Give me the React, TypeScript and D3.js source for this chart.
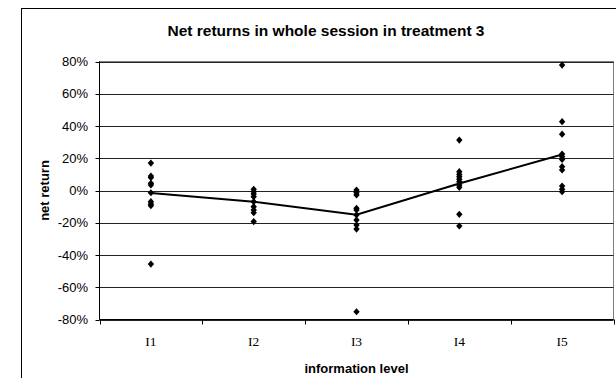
import React from "react";
import * as d3 from "d3";

const categories = ["I1", "I2", "I3", "I4", "I5"];
const pointsI1 = [17, 9, 8, 4.5, 3.4, -1.4, -6.9, -8.4, -9.4, -45.6];
const pointsI2 = [0.7, -0.7, -2.2, -3.8, -6.9, -10, -12.1, -13.8, -19.3];
const pointsI3 = [0.3, -1.4, -2.8, -11, -12.1, -15.2, -18.3, -21.4, -23.9, -75.2];
const pointsI4 = [31.3, 11.7, 10, 8.6, 6.9, 5.5, 3.4, 2, -14.8, -22];
const pointsI5 = [77.8, 42.7, 34.9, 22.6, 21, 19.3, 14.8, 12.7, 2.8, 0.8, -0.7];
const meanLine = [-1.5, -7, -15, 4.3, 22.3];
const yTicks = [80, 60, 40, 20, 0, -20, -40, -60, -80];

const title = "Net returns in whole session in treatment 3";
const xTitle = "information level";
const yTitle = "net return";

export default function App() {
  const W = 616, H = 378;
  const plot = { left: 99.5, right: 613.5, top: 61.5, bottom: 319.5 };
  const x = d3.scaleBand<string>().domain(categories).range([plot.left, plot.right]).padding(0);
  const y = d3.scaleLinear().domain([-80, 80]).range([plot.bottom, plot.top]);
  const cx = (c: string) => (x(c) as number) + x.bandwidth() / 2;
  const allPoints = [pointsI1, pointsI2, pointsI3, pointsI4, pointsI5];
  const line = d3.line<number>().x((_, i) => cx(categories[i])).y((d) => y(d));
  const diamond = "M0,-3.6L3.2,0L0,3.6L-3.2,0Z";
  const sans = "'Liberation Sans', Arial, sans-serif";
  const serif = "'Liberation Serif', 'Times New Roman', serif";
  const boundaries = categories.map((c) => x(c) as number).concat([plot.right]);

  return (
    <svg width={W} height={H} style={{ position: "absolute", left: 0, top: 0, background: "#fff" }}>
      <rect x={21.5} y={8.5} width={700} height={400} fill="#fff" stroke="#000" strokeWidth={1} />
      <text x={326} y={36} textAnchor="middle" fontFamily={sans} fontWeight="bold" fontSize={15.5}>{title}</text>
      {/* plot border */}
      <rect x={plot.left} y={plot.top} width={plot.right - plot.left} height={plot.bottom - plot.top} fill="none" stroke="#808080" strokeWidth={1} />
      {/* gridlines */}
      {yTicks.map((t) => (
        <line key={t} x1={plot.left} x2={plot.right} y1={Math.round(y(t)) + 0.5} y2={Math.round(y(t)) + 0.5} stroke="#222" strokeWidth={1} />
      ))}
      {/* y axis */}
      <line x1={plot.left} x2={plot.left} y1={plot.top} y2={plot.bottom} stroke="#000" strokeWidth={1} />
      {yTicks.map((t) => (
        <g key={"yt" + t}>
          <line x1={plot.left - 4} x2={plot.left} y1={Math.round(y(t)) + 0.5} y2={Math.round(y(t)) + 0.5} stroke="#000" />
          <text x={88} y={y(t) + 4.5} textAnchor="end" fontFamily={sans} fontSize={13}>{t + "%"}</text>
        </g>
      ))}
      {/* x axis */}
      <line x1={plot.left} x2={plot.right} y1={plot.bottom} y2={plot.bottom} stroke="#000" strokeWidth={1} />
      {boundaries.map((b, i) => (
        <line key={"xt" + i} x1={Math.round(b) + 0.5} x2={Math.round(b) + 0.5} y1={plot.bottom} y2={plot.bottom + 5} stroke="#000" />
      ))}
      {categories.map((c) => (
        <text key={"xl" + c} x={cx(c)} y={346} textAnchor="middle" fontFamily={serif} fontSize={13.5}>{c}</text>
      ))}
      <text x={(plot.left + plot.right) / 2} y={373} textAnchor="middle" fontFamily={sans} fontWeight="bold" fontSize={13}>{xTitle}</text>
      <text transform={`translate(49,${(plot.top + plot.bottom) / 2}) rotate(-90)`} textAnchor="middle" fontFamily={sans} fontWeight="bold" fontSize={13}>{yTitle}</text>
      {/* mean line */}
      <path d={line(meanLine) || ""} fill="none" stroke="#000" strokeWidth={2} />
      {/* points */}
      {allPoints.map((arr, i) =>
        arr.map((v, j) => (
          <path key={`p${i}-${j}`} d={diamond} transform={`translate(${cx(categories[i])},${y(v)})`} fill="#000" />
        ))
      )}
    </svg>
  );
}
